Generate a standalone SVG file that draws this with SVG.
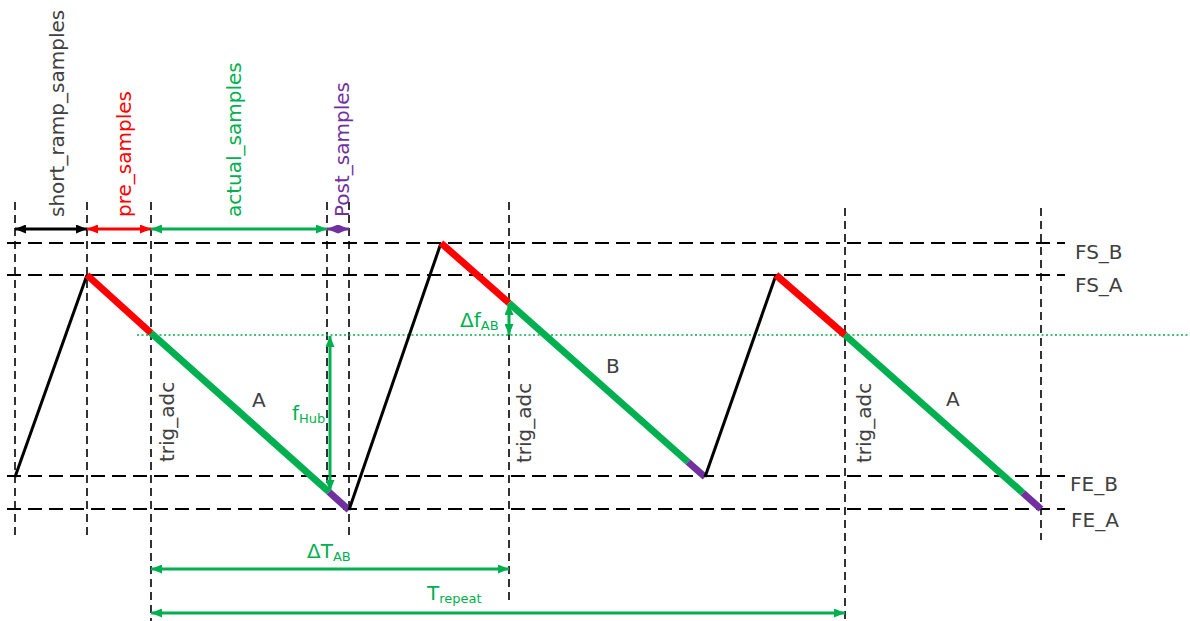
<svg xmlns="http://www.w3.org/2000/svg" width="1190" height="621" viewBox="0 0 1190 621">
  <style>
    .hd { stroke: #000; stroke-width: 2; stroke-dasharray: 14 7; fill: none; }
    .vd { stroke: #000; stroke-width: 1.6; stroke-dasharray: 8 5; fill: none; }
    .ramp { stroke: #000; stroke-width: 3; fill: none; }
    .red { stroke: #ff0000; stroke-width: 7; fill: none; }
    .grn { stroke: #00b050; stroke-width: 7; fill: none; }
    .pur { stroke: #7030a0; stroke-width: 7; fill: none; }
    .lbl { font-family: "DejaVu Sans", sans-serif; font-size: 20px; fill: #404040; }
    .glbl { font-family: "DejaVu Sans", sans-serif; font-size: 20px; fill: #00b050; }
    .sub { font-size: 13px; }
    .dim { stroke-width: 3; fill: none; }
  </style>
  <defs>
    <marker id="ak" markerUnits="userSpaceOnUse" markerWidth="11" markerHeight="9" refX="11" refY="4.5" orient="auto-start-reverse"><path d="M0,0 L11,4.5 L0,9 z" fill="#000"/></marker>
    <marker id="ar" markerUnits="userSpaceOnUse" markerWidth="11" markerHeight="9" refX="11" refY="4.5" orient="auto-start-reverse"><path d="M0,0 L11,4.5 L0,9 z" fill="#ff0000"/></marker>
    <marker id="ag" markerUnits="userSpaceOnUse" markerWidth="11" markerHeight="9" refX="11" refY="4.5" orient="auto-start-reverse"><path d="M0,0 L11,4.5 L0,9 z" fill="#00b050"/></marker>
    <marker id="ap" markerUnits="userSpaceOnUse" markerWidth="11" markerHeight="9" refX="11" refY="4.5" orient="auto-start-reverse"><path d="M0,0 L11,4.5 L0,9 z" fill="#7030a0"/></marker>
  </defs>
  <rect width="1190" height="621" fill="#fff"/>

  <g id="grid">
    <line class="hd" x1="7" y1="243" x2="1065" y2="243"/>
    <line class="hd" x1="7" y1="275" x2="1065" y2="275"/>
    <line class="hd" x1="7" y1="476" x2="1065" y2="476"/>
    <line class="hd" x1="7" y1="509" x2="1065" y2="509"/>
    <line class="vd" x1="15" y1="202" x2="15" y2="535"/>
    <line class="vd" x1="87" y1="202" x2="87" y2="535"/>
    <line class="vd" x1="151" y1="202" x2="151" y2="621"/>
    <line class="vd" x1="327" y1="202" x2="327" y2="490"/>
    <line class="vd" x1="349" y1="202" x2="349" y2="535"/>
    <line class="vd" x1="509" y1="202" x2="509" y2="600"/>
    <line class="vd" x1="845" y1="208" x2="845" y2="621"/>
    <line class="vd" x1="1041" y1="208" x2="1041" y2="540"/>
    <line x1="137" y1="335" x2="1190" y2="335" stroke="#00b050" stroke-width="1.5" stroke-dasharray="2 2.5"/>
  </g>

  <g id="level-labels" class="lbl">
    <text x="1075" y="259">FS_B</text>
    <text x="1075" y="292">FS_A</text>
    <text x="1070" y="491">FE_B</text>
    <text x="1071" y="527">FE_A</text>
  </g>

  <g id="ramp-A1">
    <line class="ramp" x1="15" y1="477" x2="87" y2="275"/>
    <line class="red" x1="87" y1="275" x2="151" y2="333"/>
    <line class="grn" x1="151" y1="333" x2="329" y2="492"/>
    <line class="pur" x1="329" y1="492" x2="349" y2="510"/>
    <text class="lbl" x="252" y="407">A</text>
    <text class="lbl" transform="translate(174,462) rotate(-90)">trig_adc</text>
  </g>

  <g id="ramp-B">
    <line class="ramp" x1="349" y1="510" x2="441" y2="243"/>
    <line class="red" x1="441" y1="243" x2="509" y2="303"/>
    <line class="grn" x1="509" y1="303" x2="688" y2="462"/>
    <line class="pur" x1="688" y1="462" x2="705" y2="477"/>
    <text class="lbl" x="606" y="373">B</text>
    <text class="lbl" transform="translate(531,463) rotate(-90)">trig_adc</text>
  </g>

  <g id="ramp-A2">
    <line class="ramp" x1="705" y1="477" x2="776" y2="275"/>
    <line class="red" x1="776" y1="275" x2="845" y2="335"/>
    <line class="grn" x1="845" y1="335" x2="1023" y2="493"/>
    <line class="pur" x1="1023" y1="493" x2="1041" y2="509"/>
    <text class="lbl" x="946" y="406">A</text>
    <text class="lbl" transform="translate(871,463) rotate(-90)">trig_adc</text>
  </g>

  <g id="connectors">
    <line class="dim" stroke="#000" x1="15" y1="229" x2="87" y2="229" marker-start="url(#ak)" marker-end="url(#ak)"/>
    <line class="dim" stroke="#ff0000" x1="87" y1="229" x2="151" y2="229" marker-start="url(#ar)" marker-end="url(#ar)"/>
    <line class="dim" stroke="#00b050" x1="151" y1="229" x2="327" y2="229" marker-start="url(#ag)" marker-end="url(#ag)"/>
    <line class="dim" stroke="#7030a0" x1="327" y1="229" x2="349" y2="229" marker-start="url(#ap)" marker-end="url(#ap)"/>
    <line class="dim" stroke="#00b050" x1="330" y1="336" x2="330" y2="491" marker-start="url(#ag)" marker-end="url(#ag)"/>
    <line class="dim" stroke="#00b050" x1="509" y1="304" x2="509" y2="335" marker-start="url(#ag)" marker-end="url(#ag)"/>
    <line class="dim" stroke="#00b050" x1="151" y1="569" x2="509" y2="569" marker-start="url(#ag)" marker-end="url(#ag)"/>
    <line class="dim" stroke="#00b050" x1="151" y1="613" x2="845" y2="613" marker-start="url(#ag)" marker-end="url(#ag)"/>
  </g>

  <g id="dimension-labels">
    <text class="lbl" transform="translate(64,217) rotate(-90)">short_ramp_samples</text>
    <text class="lbl" transform="translate(131,217) rotate(-90)" fill="#ff0000" style="fill:#ff0000">pre_samples</text>
    <text class="glbl" transform="translate(241,217) rotate(-90)">actual_samples</text>
    <text class="lbl" transform="translate(349,217) rotate(-90)" style="fill:#7030a0">Post_samples</text>
    <text class="glbl" x="292" y="420">f<tspan class="sub" dy="3">Hub</tspan></text>
    <text class="glbl" x="460" y="327">Δf<tspan class="sub" dy="3">AB</tspan></text>
    <text class="glbl" x="307" y="558">ΔT<tspan class="sub" dy="3">AB</tspan></text>
    <text class="glbl" x="427" y="600">T<tspan class="sub" dy="3">repeat</tspan></text>
  </g>
</svg>
